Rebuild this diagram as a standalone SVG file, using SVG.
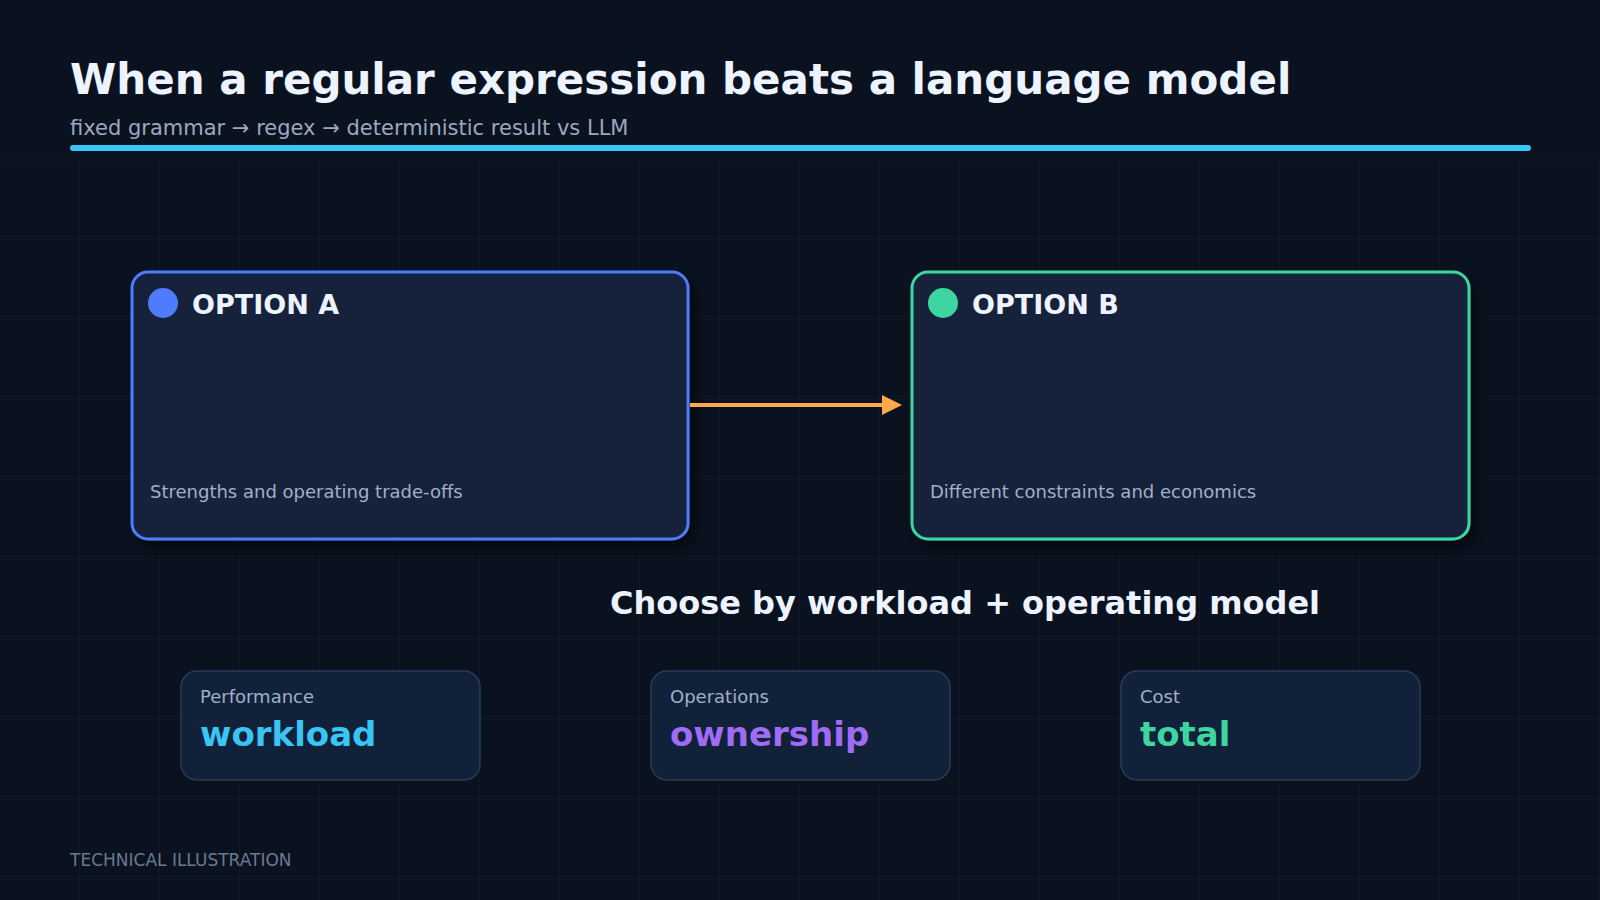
<svg xmlns="http://www.w3.org/2000/svg" width="1600" height="900" viewBox="0 0 1600 900">
<style>
.title{font-family:"DejaVu Sans",sans-serif;font-weight:bold;font-size:42px;fill:#eef4ff}
.sub{font-family:"DejaVu Sans",sans-serif;font-size:21px;fill:#9aa9bf}
.card{fill:#13223b;stroke-width:3}
.head{font-family:"DejaVu Sans",sans-serif;font-weight:bold;font-size:27px;fill:#eef4ff}
.desc{font-family:"DejaVu Sans",sans-serif;font-size:18px;fill:#9fb0c8}
.choose{font-family:"DejaVu Sans",sans-serif;font-weight:bold;font-size:32px;fill:#eef4ff}
.metric{fill:#12213a;stroke:#2a3d58;stroke-width:1.5}
.mlabel{font-family:"DejaVu Sans",sans-serif;font-size:18px;fill:#9fb0c8}
.mval{font-family:"DejaVu Sans",sans-serif;font-weight:bold;font-size:34px}
.foot{font-family:"DejaVu Sans",sans-serif;font-size:17px;fill:#6b7a90}
</style>
<defs>
<pattern id="grid" width="80" height="80" patternUnits="userSpaceOnUse">
<path d="M80 0 V80 M0 80 H80" fill="none" stroke="#131d2c" stroke-width="1"/>
</pattern>
<filter id="shadow" x="-10%" y="-10%" width="125%" height="130%">
<feDropShadow dx="6" dy="8" stdDeviation="7" flood-color="#000" flood-opacity="0.55"/>
</filter>
<marker id="arrow" markerWidth="20" markerHeight="20" refX="2" refY="10" orient="auto" markerUnits="userSpaceOnUse" viewBox="0 0 20 20">
<path d="M0 0 L20 10 L0 20 Z" fill="#ffa94d"/>
</marker>
</defs>
<rect width="1600" height="900" fill="#0a1220"/>
<rect x="0" y="0" width="1600" height="900" fill="url(#grid)"/>
<rect x="0" y="0" width="1600" height="160" fill="#0a1220"/>
<line x1="0" y1="160" x2="1600" y2="160" stroke="#131d2c" stroke-width="1"/>

<g id="header">
<text class="title" x="70" y="94">When a regular expression beats a language model</text>
<text class="sub" x="70" y="135">fixed grammar → regex → deterministic result vs LLM</text>
<rect x="70" y="145" width="1461" height="6" rx="3" fill="#38c6f4"/>
</g>

<g id="option-a">
<rect class="card" x="132" y="272" width="556" height="267" rx="16" stroke="#4f7cff" filter="url(#shadow)"/>
<circle cx="163" cy="303" r="15" fill="#4f7cff"/>
<text class="head" x="192" y="314">OPTION A</text>
<text class="desc" x="150" y="498">Strengths and operating trade-offs</text>
</g>

<g id="option-b">
<rect class="card" x="912" y="272" width="557" height="267" rx="16" stroke="#3dd6a0" filter="url(#shadow)"/>
<circle cx="943" cy="303" r="15" fill="#3dd6a0"/>
<text class="head" x="972" y="314">OPTION B</text>
<text class="desc" x="930" y="498">Different constraints and economics</text>
</g>

<g id="connectors">
<line x1="690" y1="405" x2="884" y2="405" stroke="#ffa94d" stroke-width="4" marker-end="url(#arrow)"/>
</g>

<g id="summary">
<text class="choose" x="965" y="614" text-anchor="middle">Choose by workload + operating model</text>
</g>

<g id="metric-performance">
<rect class="metric" x="181" y="671" width="299" height="109" rx="16"/>
<text class="mlabel" x="200" y="703">Performance</text>
<text class="mval" x="200" y="746" fill="#38c6f4">workload</text>
</g>
<g id="metric-operations">
<rect class="metric" x="651" y="671" width="299" height="109" rx="16"/>
<text class="mlabel" x="670" y="703">Operations</text>
<text class="mval" x="670" y="746" fill="#a06cf6">ownership</text>
</g>
<g id="metric-cost">
<rect class="metric" x="1121" y="671" width="299" height="109" rx="16"/>
<text class="mlabel" x="1140" y="703">Cost</text>
<text class="mval" x="1140" y="746" fill="#3dd6a0">total</text>
</g>

<g id="footer">
<text class="foot" x="70" y="866">TECHNICAL ILLUSTRATION</text>
</g>
</svg>
